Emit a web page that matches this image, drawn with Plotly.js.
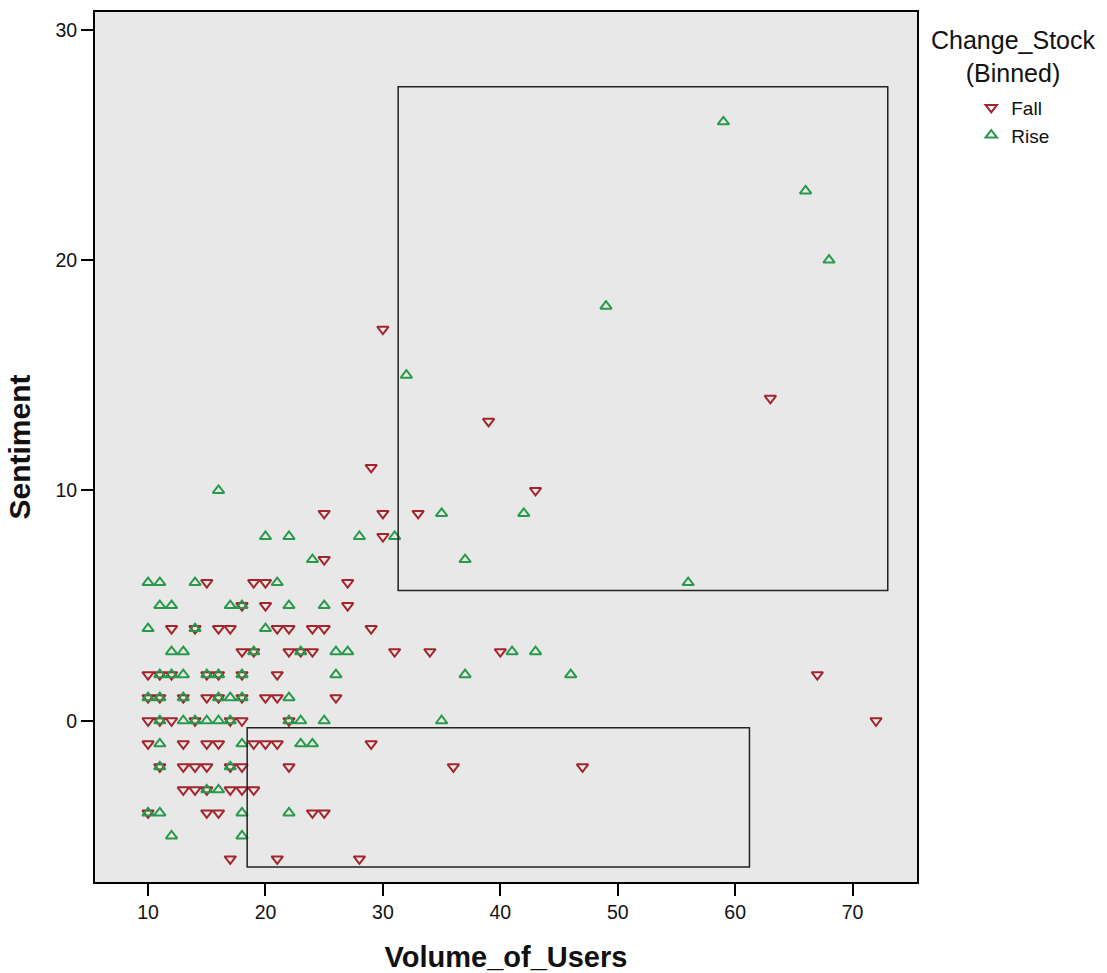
<!DOCTYPE html>
<html>
<head>
<meta charset="utf-8">
<script src="https://cdn.plot.ly/plotly-3.0.1.min.js"></script>
<style>html,body{margin:0;padding:0;background:#fff;}#chart{width:1107px;height:973px;}</style>
</head>
<body>
<div id="chart"></div>
<script>
// Fall (red, triangle-down)
const fallX = [30,63,39,29,43,25,30,33,30,25,15,19,20,27,18,20,27,
  12,14,16,17,21,22,24,25,29,
  18,19,22,23,24,31,34,40,
  10,11,12,15,16,18,21,67,
  10,11,13,15,16,18,20,21,26,
  10,11,12,14,17,18,22,72,
  10,13,15,16,19,20,21,29,
  11,13,14,15,17,18,22,36,47,
  13,14,15,17,18,19,
  10,15,16,24,25,
  17,21,28];
const fallY = [17,14,13,11,10,9,9,9,8,7,6,6,6,6,5,5,5,
  4,4,4,4,4,4,4,4,4,
  3,3,3,3,3,3,3,3,
  2,2,2,2,2,2,2,2,
  1,1,1,1,1,1,1,1,1,
  0,0,0,0,0,0,0,0,
  -1,-1,-1,-1,-1,-1,-1,-1,
  -2,-2,-2,-2,-2,-2,-2,-2,-2,
  -3,-3,-3,-3,-3,-3,
  -4,-4,-4,-4,-4,
  -6,-6,-6];
// Rise (green, triangle-up)
const riseX = [59,66,68,49,32,16,35,42,20,22,28,31,24,37,
  10,11,14,21,56,
  11,12,17,18,22,25,
  10,14,20,
  12,13,19,23,26,27,41,43,
  11,12,13,15,16,18,26,37,46,
  10,11,13,16,17,18,22,
  11,13,14,15,16,17,22,23,25,35,
  11,18,23,24,
  11,17,
  15,16,
  10,11,18,22,
  12,18];
const riseY = [26,23,20,18,15,10,9,9,8,8,8,8,7,7,
  6,6,6,6,6,
  5,5,5,5,5,5,
  4,4,4,
  3,3,3,3,3,3,3,3,
  2,2,2,2,2,2,2,2,2,
  1,1,1,1,1,1,1,
  0,0,0,0,0,0,0,0,0,0,
  -1,-1,-1,-1,
  -2,-2,
  -3,-3,
  -4,-4,-4,-4,
  -5,-5];
// Highlight boxes (data coordinates)
const boxX0 = [31.3, 18.44];
const boxX1 = [73.0, 61.22];
const boxY0 = [5.65, -6.35];
const boxY1 = [27.52, -0.3];
const xTicks = [10,20,30,40,50,60,70];
const yTicks = [0,10,20,30];
const seriesNames = ['Fall','Rise'];
const legendTitle = 'Change_Stock<br>(Binned)';

const RED = '#a3252d', GREEN = '#289a4b';
const traces = [
  {x: fallX, y: fallY, name: seriesNames[0], type: 'scatter', mode: 'markers',
   marker: {symbol: 'triangle-down-open', size: 10, color: RED, line: {width: 2, color: RED}}},
  {x: riseX, y: riseY, name: seriesNames[1], type: 'scatter', mode: 'markers',
   marker: {symbol: 'triangle-up-open', size: 10, color: GREEN, line: {width: 2, color: GREEN}}}
];
const shapes = boxX0.map((v, i) => ({type: 'rect', xref: 'x', yref: 'y',
  x0: v, x1: boxX1[i], y0: boxY0[i], y1: boxY1[i],
  line: {color: '#222', width: 1.5}, fillcolor: 'rgba(0,0,0,0)'}));

const FONT = 'Liberation Sans, Arial, sans-serif';
const layout = {
  width: 1107, height: 973,
  margin: {l: 95, r: 190, t: 12, b: 91, pad: 0},
  paper_bgcolor: '#ffffff', plot_bgcolor: '#e8e8e8',
  font: {family: FONT, color: '#111', size: 19},
  showlegend: true,
  legend: {x: 1.066, xanchor: 'left', y: 0.912, yanchor: 'top', bgcolor: 'rgba(0,0,0,0)',
    font: {family: FONT, size: 19, color: '#111'}, itemwidth: 30, tracegroupgap: 0,
    valign: 'middle'},
  xaxis: {range: [5.48, 75.49], tickvals: xTicks, ticktext: xTicks.map(String),
    showline: true, linecolor: '#000', linewidth: 2, mirror: true,
    ticks: 'outside', ticklen: 12, tickwidth: 2, tickcolor: '#000',
    showgrid: false, zeroline: false, tickfont: {family: FONT, size: 19.5, color: '#111'},
    title: {text: 'Volume_of_Users', standoff: 25, font: {family: FONT, size: 29, color: '#111', weight: 'bold'}}},
  yaxis: {range: [-7.0, 30.77], tickvals: yTicks, ticktext: yTicks.map(String),
    showline: true, linecolor: '#000', linewidth: 2, mirror: true,
    ticks: 'outside', ticklen: 12, tickwidth: 2, tickcolor: '#000',
    showgrid: false, zeroline: false, tickfont: {family: FONT, size: 19.5, color: '#111'},
    title: {text: 'Sentiment', standoff: 16, font: {family: FONT, size: 30, color: '#111', weight: 'bold'}}},
  shapes: shapes,
  annotations: [{xref: 'paper', yref: 'paper', x: (1014 - 95) / 822, y: (882 - 56) / 870,
    xanchor: 'center', yanchor: 'middle', text: legendTitle, showarrow: false,
    font: {family: FONT, size: 25, color: '#111'}, align: 'center'}]
};
Plotly.newPlot('chart', traces, layout, {displayModeBar: false, staticPlot: true});
</script>
</body>
</html>
